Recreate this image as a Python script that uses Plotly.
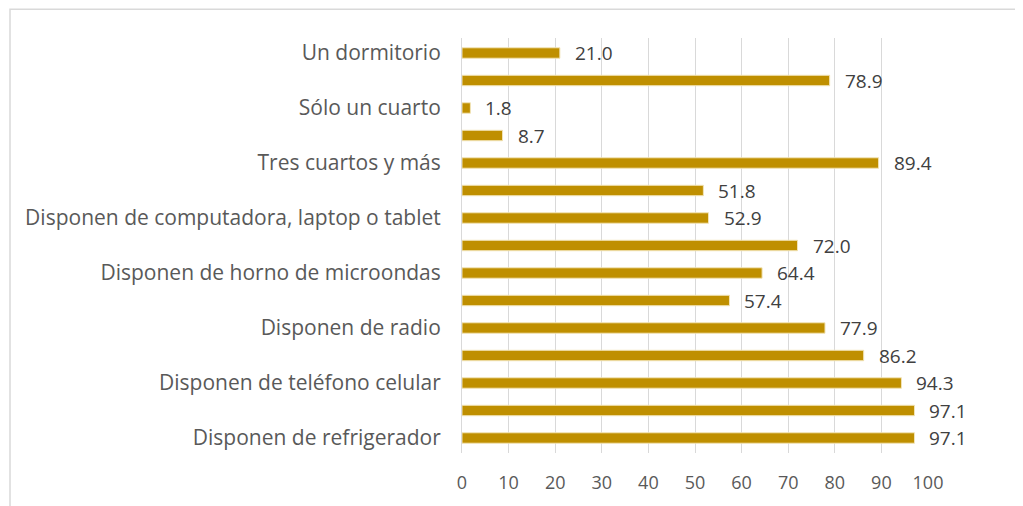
import plotly.graph_objects as go

categories = [
    "Un dormitorio",
    "Dos dormitorios y más",
    "Sólo un cuarto",
    "Dos cuartos",
    "Tres cuartos y más",
    "Disponen de internet",
    "Disponen de computadora, laptop o tablet",
    "Disponen de lavadora",
    "Disponen de horno de microondas",
    "Disponen de automóvil",
    "Disponen de radio",
    "Disponen de teléfono fijo",
    "Disponen de teléfono celular",
    "Disponen de televisión",
    "Disponen de refrigerador",
]
values = [21.0, 78.9, 1.8, 8.7, 89.4, 51.8, 52.9, 72.0, 64.4, 57.4, 77.9, 86.2, 94.3, 97.1, 97.1]
shown_labels = [c if i % 2 == 0 else "" for i, c in enumerate(categories)]
x_ticks = [0, 10, 20, 30, 40, 50, 60, 70, 80, 90, 100]

BAR = "#BF8F00"
FONT = "Open Sans"

fig = go.Figure()
fig.add_trace(go.Bar(
    y=categories, x=values, orientation="h",
    marker=dict(color=BAR, line=dict(color="#F2E4B8", width=1)),
    width=0.38,
    hoverinfo="x+y",
))

for c, v in zip(categories, values):
    fig.add_annotation(x=v, y=c, text=f"{v:.1f}", showarrow=False,
                       xanchor="left", yanchor="middle", xshift=13, yshift=0,
                       font=dict(family=FONT, size=19, color="#404040"))

# page body has an 8px margin, so the figure is drawn 8px smaller/offset
OFF = 8
W, H = 1023 - OFF, 506 - OFF
L, R, T, B = 462 - OFF, 95, 38 - OFF, 56 - OFF
pw, ph = W - L - R, H - T - B
fig.add_shape(type="rect", xref="paper", yref="paper",
              x0=(10 - OFF - L) / pw, x1=(1040 - L) / pw,
              y0=(H - B - 520) / ph, y1=(H - B - (9 - OFF)) / ph,
              line=dict(color="#D9D9D9", width=1.5), fillcolor="rgba(0,0,0,0)", layer="below")

fig.update_layout(
    width=W, height=H,
    margin=dict(l=L, r=R, t=T, b=B),
    paper_bgcolor="white", plot_bgcolor="white",
    showlegend=False,
    bargap=0.62,
    xaxis=dict(range=[0, 100], tickvals=x_ticks, showgrid=True, gridcolor="#D9D9D9", gridwidth=1,
               zeroline=False, showline=False, ticks="", ticklabelstandoff=17,
               tickfont=dict(family=FONT, size=18, color="#595959"), fixedrange=True),
    yaxis=dict(autorange="reversed", tickvals=categories, ticktext=shown_labels,
               showgrid=False, zeroline=False, showline=True, linecolor="#D9D9D9", linewidth=1,
               ticks="", ticklabelstandoff=16,
               tickfont=dict(family=FONT, size=21, color="#595959"), fixedrange=True),
)

fig.write_html("out.html")
